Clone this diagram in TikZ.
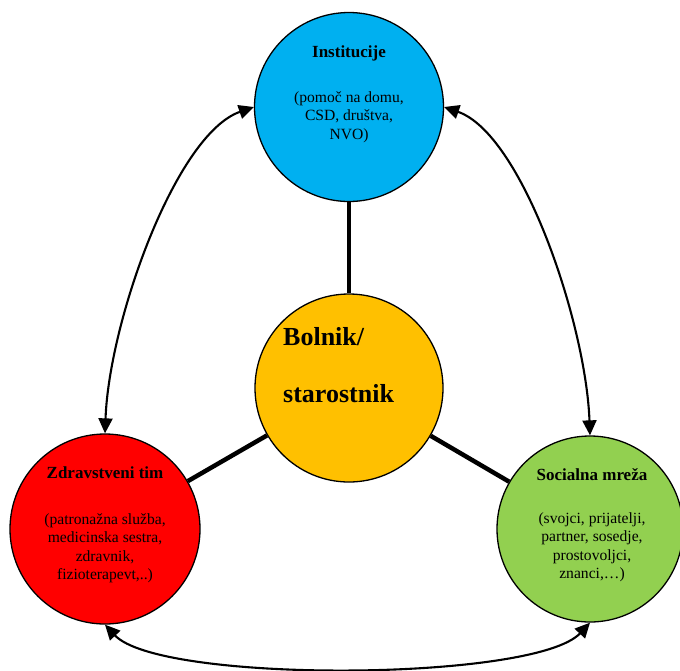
\documentclass[tikz,border=0pt]{standalone}
\usepackage{fontspec}
\setmainfont{Liberation Serif}
\usetikzlibrary{arrows.meta}
\definecolor{cblue}{HTML}{00B0F0}
\definecolor{corange}{HTML}{FFC000}
\definecolor{cred}{HTML}{FF0000}
\definecolor{cgreen}{HTML}{92D050}
\begin{document}
\begin{tikzpicture}[x=1pt,y=-1pt,
  bubble/.style={circle, draw=black, line width=1.3pt, inner sep=0pt},
  title/.style={font=\fontsize{17}{20}\selectfont\bfseries, anchor=base, inner sep=0pt},
  body/.style={font=\fontsize{15.6}{18.6}\selectfont, align=center, anchor=north, inner sep=0pt},
  big/.style={font=\fontsize{26}{30}\selectfont\bfseries, anchor=base west, inner sep=0pt},
  spoke/.style={line width=4.5pt},
  link/.style={line width=2.1pt, {Triangle[length=15pt,width=14pt]}-{Triangle[length=15pt,width=14pt]}}]
\useasboundingbox (0,0) rectangle (680,670);
% circles
\node[bubble, fill=cblue, minimum size=189pt] (top) at (349,107) {};
\node[bubble, fill=corange, minimum size=188pt] (mid) at (349,388) {};
\node[bubble, fill=cred, minimum size=190pt] (red) at (105,529) {};
\node[bubble, fill=cgreen, minimum size=186pt] (green) at (590,529) {};
% spokes
\draw[spoke] (top) -- (mid);
\draw[spoke] (red) -- (mid);
\draw[spoke] (green) -- (mid);
% curved links
\draw[link] (top.west) .. controls +(-78,27) and +(4,-112) .. (red.north);
\draw[link] (top.east) .. controls +(78,27) and +(-4,-112) .. (green.north);
\draw[link] (red.south) .. controls +(55,59) and +(-55,59) .. (green.south);
% texts
\node[title] (t1) at (349,57) {Institucije};
\node[body] (b1) at (349,91) {(pomoč na domu,\\CSD, društva,\\NVO)};
\node[title] (t2) at (105,478) {Zdravstveni tim};
\node[body] (b2) at (105,513) {(patronažna služba,\\medicinska sestra,\\zdravnik,\\fizioterapevt,..)};
\node[title] (t3) at (592,480) {Socialna mreža};
\node[body] (b3) at (592,512) {(svojci, prijatelji,\\partner, sosedje,\\prostovoljci,\\znanci,…)};
\node[big] (c1) at (283,345) {Bolnik/};
\node[big] (c2) at (283,402) {starostnik};
\end{tikzpicture}
\end{document}
